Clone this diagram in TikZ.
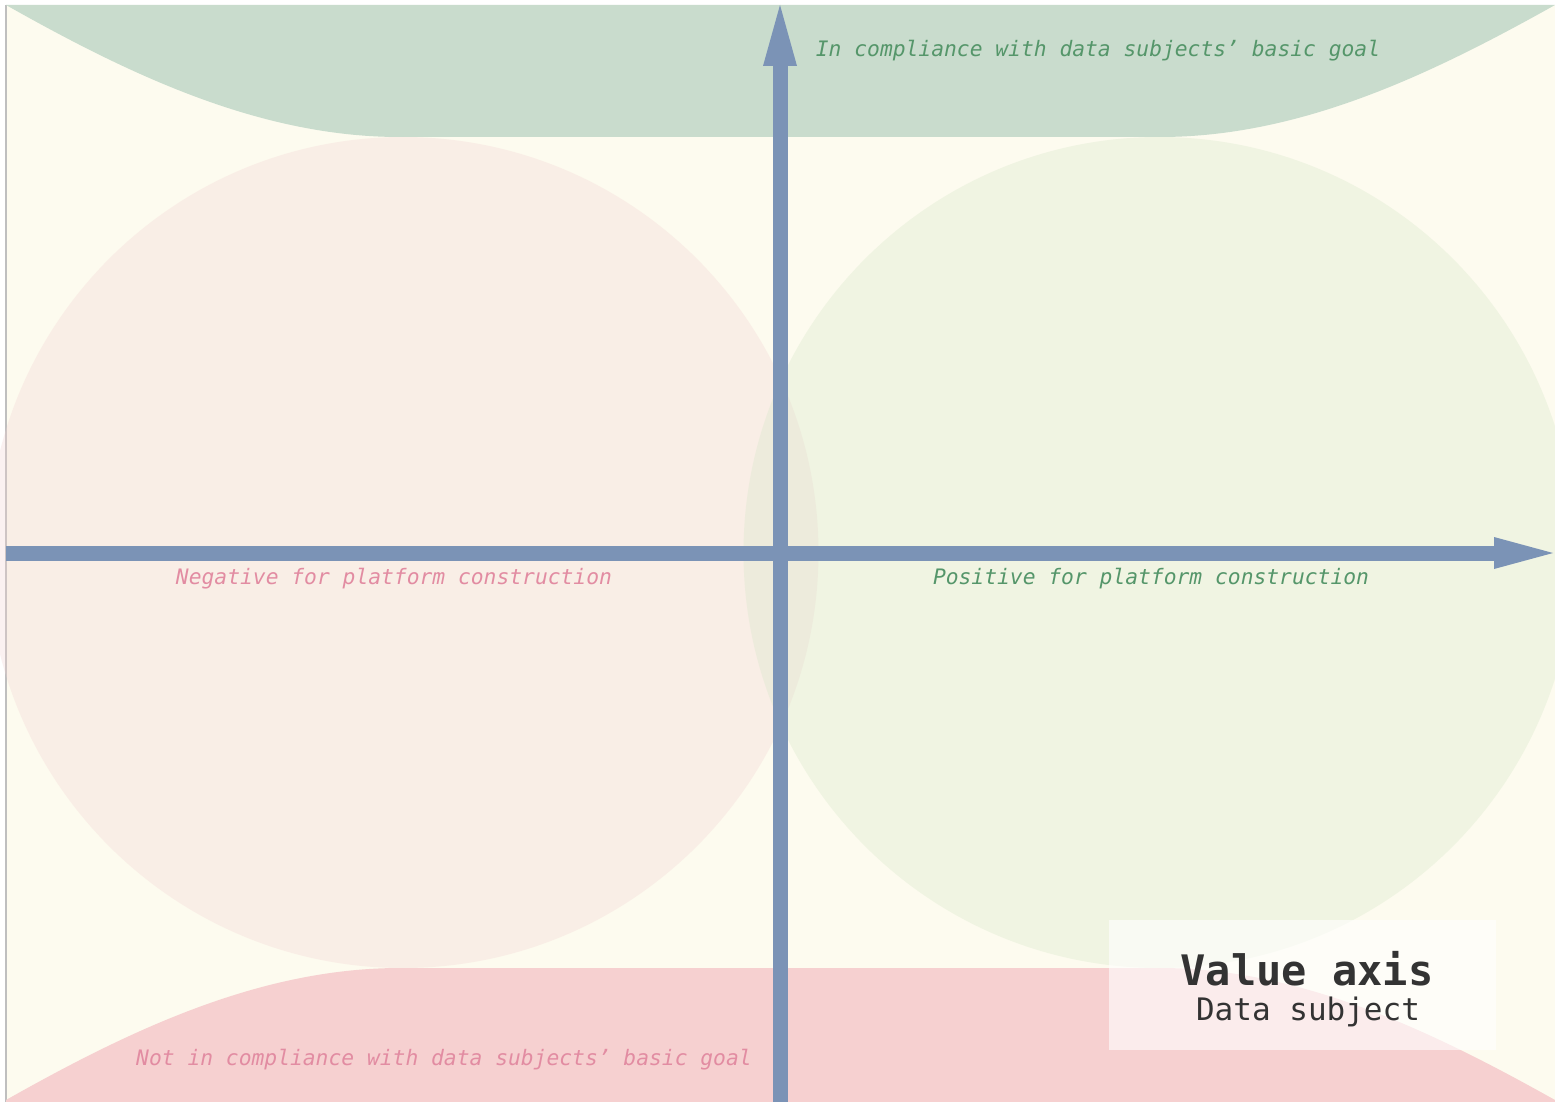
\documentclass[tikz,border=0pt]{standalone}
\usepackage{fontspec}
\newfontfamily\monof{DejaVu Sans Mono}

\definecolor{cream}{HTML}{FDFBEF}
\definecolor{bandgreen}{HTML}{C9DCCD}
\definecolor{bandpink}{HTML}{F6D0D0}
\definecolor{blobpink}{HTML}{F3D2D2}
\definecolor{blobgreen}{HTML}{D3E6C6}
\definecolor{axisblue}{HTML}{7B93B6}
\definecolor{goodtext}{HTML}{55966A}
\definecolor{badtext}{HTML}{E28CA2}
\definecolor{titletext}{HTML}{333333}

\tikzset{
  blob/.style={draw=none, fill opacity=0.3},
  axisline/.style={line width=15pt, axisblue, line cap=butt},
  axishead/.style={fill=axisblue, draw=none},
  goodlabel/.style={text=goodtext, font=\monof\itshape\fontsize{21.3}{25}\selectfont},
  badlabel/.style={text=badtext, font=\monof\itshape\fontsize{21.3}{25}\selectfont},
}

\begin{document}
\begin{tikzpicture}[x=1pt, y=-1pt]
  \useasboundingbox (0,0) rectangle (1555,1102);
  \clip (0,0) rectangle (1555,1102);
  \fill[white] (0,0) rectangle (1555,1102);

  % canvas
  \fill[cream] (6,5) rectangle (1555,1102);
  \draw[black!25, line width=1.2pt] (6,5) -- (6,1102);

  % upper and lower bands
  \fill[bandgreen] (6,5) .. controls (130,75) and (260,137) .. (400,137)
    -- (1160,137) .. controls (1300,137) and (1430,75) .. (1555,5) -- cycle;
  \fill[bandpink] (6,1100) .. controls (130,1030) and (260,968) .. (400,968)
    -- (1160,968) .. controls (1300,968) and (1430,1030) .. (1555,1100)
    -- (1555,1102) -- (6,1102) -- cycle;

  % the two half-spaces
  \fill[blob, blobpink] (403,552.5) circle[radius=415.5];
  \fill[blob, blobgreen] (1159,552.5) circle[radius=415.5];

  % axes: shafts, then heads
  \coordinate (xstart) at (6,553);
  \coordinate (xbase) at (1494,553);
  \coordinate (xtip) at (1553,553);
  \coordinate (ystart) at (780,1102);
  \coordinate (ybase) at (780,66);
  \coordinate (ytip) at (780,5);
  \draw[axisline] (ystart) -- (ybase);
  \draw[axisline] (xstart) -- (xbase);
  \fill[axishead] (ytip) -- ([xshift=17pt]ybase) -- ([xshift=-17pt]ybase) -- cycle;
  \fill[axishead] (xtip) -- ([yshift=-16pt]xbase) -- ([yshift=16pt]xbase) -- cycle;

  % labels
  \node[goodlabel] (up) at (1098,51) {In compliance with data subjects’ basic goal};
  \node[badlabel] (down) at (444,1060) {Not in compliance with data subjects’ basic goal};
  \node[badlabel] (neg) at (394,579) {Negative for platform construction};
  \node[goodlabel] (pos) at (1151,579) {Positive for platform construction};

  % title box
  \node[fill=white, fill opacity=0.6, minimum width=387pt, minimum height=130pt,
        inner sep=0pt] (box) at (1302.5,985) {};
  \node[text=titletext, font=\monof\bfseries\fontsize{42}{46}\selectfont] (title) at (1307,969) {Value axis};
  \node[text=titletext, font=\monof\fontsize{31}{34}\selectfont] (subtitle) at (1308,1012) {Data subject};
\end{tikzpicture}
\end{document}
